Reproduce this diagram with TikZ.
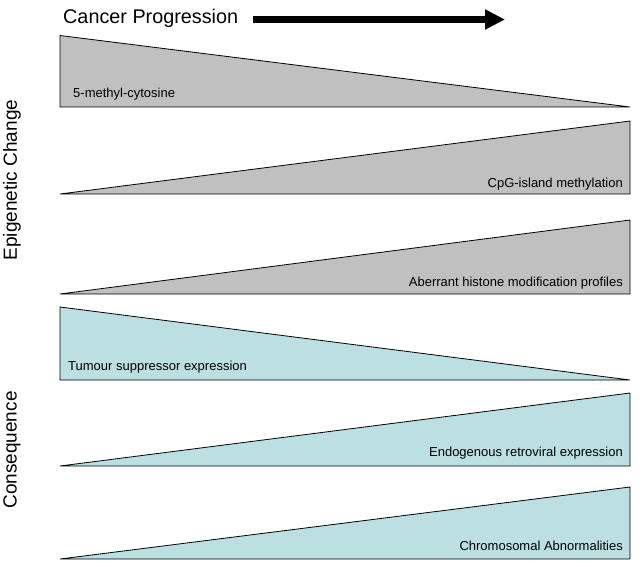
\documentclass[tikz,border=0pt]{standalone}
\usepackage{fontspec}
\setmainfont{Liberation Sans}
\usetikzlibrary{arrows.meta}
\definecolor{epigray}{HTML}{C0C0C0}
\definecolor{conscyan}{HTML}{BCDFE2}
\tikzset{
  wedge/.style={draw=black, line width=0.8pt, line join=miter},
  epi/.style={wedge, fill=epigray},
  cons/.style={wedge, fill=conscyan},
  lbl/.style={font=\fontsize{13}{15}\selectfont, inner sep=0pt},
  sidelbl/.style={font=\fontsize{19}{22}\selectfont, rotate=90, inner sep=0pt},
}
\begin{document}
\begin{tikzpicture}[x=1pt,y=-1pt]
\useasboundingbox (0,0) rectangle (642,567);
% title and arrow
\node[font=\fontsize{19.8}{23}\selectfont, anchor=west, inner sep=0pt] (cp) at (63,18) {Cancer Progression};
\coordinate (arrS) at (253,19.5);
\coordinate (arrE) at (505,19.5);
\draw[line width=7pt, -{Triangle[length=20pt,width=19pt]}] (arrS) -- (arrE);
% side labels
\node[sidelbl] (epil) at (12,180) {Epigenetic Change};
\node[sidelbl] (consl) at (12,450) {Consequence};
% epigenetic triangles
\draw[epi] (60,35.5) -- (60,107) -- (630,107) -- cycle;
\draw[epi] (60,194) -- (630,194) -- (630,121) -- cycle;
\draw[epi] (60,294) -- (630,294) -- (630,220) -- cycle;
% consequence triangles
\draw[cons] (60,307) -- (60,380) -- (630,380) -- cycle;
\draw[cons] (60,466) -- (630,466) -- (630,393) -- cycle;
\draw[cons] (60,559) -- (630,559) -- (630,487) -- cycle;
% labels
\node[lbl, anchor=west] (t1) at (73,94) {5-methyl-cytosine};
\node[lbl, anchor=east] (t2) at (623,184) {CpG-island methylation};
\node[lbl, anchor=east] (t3) at (623,283) {Aberrant histone modification profiles};
\node[lbl, anchor=west] (t4) at (68,367) {Tumour suppressor expression};
\node[lbl, anchor=east] (t5) at (623,453) {Endogenous retroviral expression};
\node[lbl, anchor=east] (t6) at (623,546) {Chromosomal Abnormalities};
\end{tikzpicture}
\end{document}
